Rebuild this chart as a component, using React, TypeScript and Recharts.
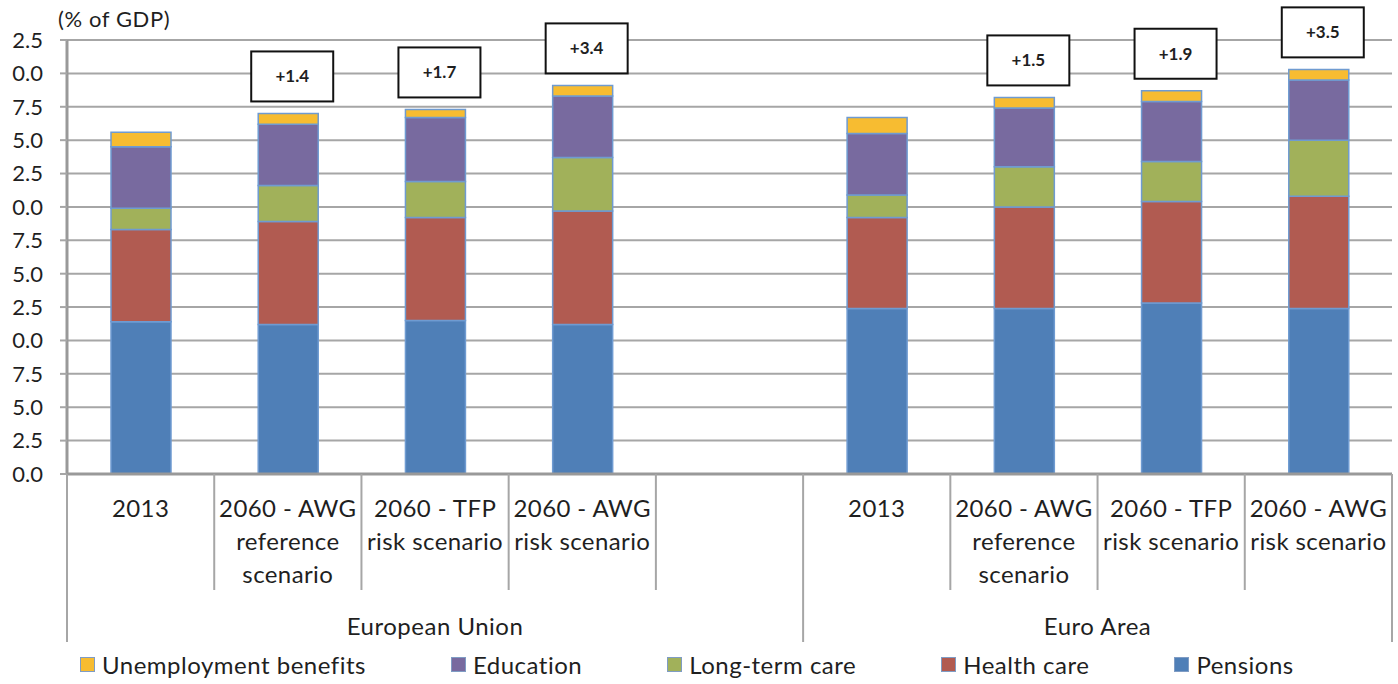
import { BarChart, Bar, XAxis, YAxis, CartesianGrid, Legend, LabelList } from 'recharts'

const categories = [
  '2013',
  '2060 - AWG\nreference\nscenario',
  '2060 - TFP\nrisk scenario',
  '2060 - AWG\nrisk scenario',
  '',
  '2013',
  '2060 - AWG\nreference\nscenario',
  '2060 - TFP\nrisk scenario',
  '2060 - AWG\nrisk scenario',
]
const groups = [
  { name: 'European Union', span: 5 },
  { name: 'Euro Area', span: 4 },
]

const pensions = [11.4, 11.2, 11.5, 11.2, null, 12.4, 12.4, 12.8, 12.4]
const healthCare = [6.9, 7.7, 7.7, 8.5, null, 6.8, 7.6, 7.6, 8.4]
const longTermCare = [1.6, 2.7, 2.7, 4.0, null, 1.7, 3.0, 3.0, 4.2]
const education = [4.6, 4.6, 4.8, 4.6, null, 4.6, 4.4, 4.5, 4.5]
const unemployment = [1.1, 0.8, 0.6, 0.8, null, 1.2, 0.8, 0.8, 0.8]
const increases = ['', '+1.4', '+1.7', '+3.4', '', '', '+1.5', '+1.9', '+3.5']

const yTicks = [0, 2.5, 5, 7.5, 10, 12.5, 15, 17.5, 20, 22.5, 25, 27.5, 30, 32.5]

const series = [
  { key: 'pensions', name: 'Pensions', color: '#4f7fb7' },
  { key: 'health', name: 'Health care', color: '#b15b51' },
  { key: 'ltc', name: 'Long-term care', color: '#a1b15a' },
  { key: 'education', name: 'Education', color: '#786a9f' },
  { key: 'unemployment', name: 'Unemployment benefits', color: '#f7bc31' },
]

const data = categories.map((label, i) => ({
  idx: i,
  label,
  pensions: pensions[i],
  health: healthCare[i],
  ltc: longTermCare[i],
  education: education[i],
  unemployment: unemployment[i],
  delta: increases[i],
}))

const W = 1398
const H = 684
const LEFT = 67
const RIGHT = 6
const TOP = 40
const XAXIS_H = 168
const LEGEND_H = 42
const band = (W - LEFT - RIGHT) / categories.length
const FONT = 'Lato, sans-serif'
const TEXT = '#1f1f1f'
const GRID = '#a6a6a6'

const groupStart: Record<number, { name: string; span: number }> = {}
{
  let s = 0
  groups.forEach((g) => {
    groupStart[s] = g
    s += g.span
  })
}

function CategoryTick({ x, y, index }: any) {
  const half = band / 2
  const g = groupStart[index]
  const lines = categories[index] ? categories[index].split('\n') : []
  const last = index === categories.length - 1
  return (
    <g>
      <line x1={x - half} x2={x - half} y1={y} y2={y + (g ? 168 : 116)} stroke={GRID} strokeWidth={2} />
      {last && <line x1={x + half} x2={x + half} y1={y} y2={y + 168} stroke={GRID} strokeWidth={2} />}
      {lines.map((t, i) => (
        <text key={i} x={x} y={y + 43 + i * 33} textAnchor="middle" fontFamily={FONT} fontSize={24} letterSpacing={0.4} fill={TEXT}>
          {t}
        </text>
      ))}
      {g && (
        <text x={x - half + g.span * half} y={y + 161} textAnchor="middle" fontFamily={FONT} fontSize={24} letterSpacing={0.5} fill={TEXT}>
          {g.name}
        </text>
      )}
    </g>
  )
}

function IncreaseBox({ x, y, width, value }: any) {
  if (!value) return null
  const cx = x + width / 2 + 4
  const bh = 50
  const bw = 82
  const by = y - 12 - bh
  return (
    <g>
      <rect x={cx - bw / 2} y={by} width={bw} height={bh} fill="#fff" stroke="#111" strokeWidth={2} />
      <text x={cx} y={by + bh / 2 + 6} textAnchor="middle" fontFamily={FONT} fontSize={17} fontWeight="bold" fill={TEXT}>
        {value}
      </text>
    </g>
  )
}

function GdpLabel({ viewBox }: any) {
  return (
    <text x={viewBox.x + viewBox.width - 9} y={viewBox.y - 13} fontFamily={FONT} fontSize={22} letterSpacing={0.6} fill={TEXT}>
      (% of GDP)
    </text>
  )
}

function LegendContent() {
  const items = [...series].reverse()
  return (
    <div style={{ display: 'flex', gap: 85, paddingLeft: 80, paddingTop: 8, fontFamily: FONT, fontSize: 24, letterSpacing: 0.5, color: TEXT, alignItems: 'center' }}>
      {items.map((s) => (
        <div key={s.key} style={{ display: 'flex', alignItems: 'center', gap: 7 }}>
          <div style={{ width: 13, height: 13, background: s.color, border: '1px solid #7f9cc4' }} />
          <span>{s.name}</span>
        </div>
      ))}
    </div>
  )
}

export default function App() {
  return (
    <div style={{ position: 'absolute', left: 0, top: 0, width: W, height: H, background: '#fff' }}>
      <BarChart width={W} height={H} data={data} margin={{ top: TOP, right: RIGHT, left: LEFT - 60, bottom: 0 }} barSize={60}>
        <CartesianGrid horizontal vertical={false} stroke={GRID} strokeWidth={2} />
        <XAxis
          dataKey="idx"
          height={XAXIS_H}
          interval={0}
          tickLine={false}
          tickSize={0}
          tickMargin={0}
          axisLine={{ stroke: '#999', strokeWidth: 3 }}
          tick={<CategoryTick />}
        />
        <YAxis
          width={60}
          domain={[0, 32.5]}
          ticks={yTicks}
          interval={0}
          tickSize={7}
          tickMargin={17}
          tickLine={{ stroke: GRID, strokeWidth: 2 }}
          axisLine={{ stroke: '#999', strokeWidth: 3 }}
          tickFormatter={(v: number) => (v % 10).toFixed(1)}
          tick={{ fontFamily: FONT, fontSize: 22, fill: TEXT }}
          label={<GdpLabel />}
        />
        <Legend verticalAlign="bottom" align="left" height={LEGEND_H} content={<LegendContent />} wrapperStyle={{ left: 0, width: W }} />
        {series.map((s, i) => (
          <Bar
            key={s.key}
            dataKey={s.key}
            name={s.name}
            stackId="a"
            fill={s.color}
            stroke="#6f9bd1"
            strokeWidth={1.5}
            isAnimationActive={false}
          >
            {i === series.length - 1 && <LabelList dataKey="delta" content={<IncreaseBox />} />}
          </Bar>
        ))}
      </BarChart>
    </div>
  )
}
